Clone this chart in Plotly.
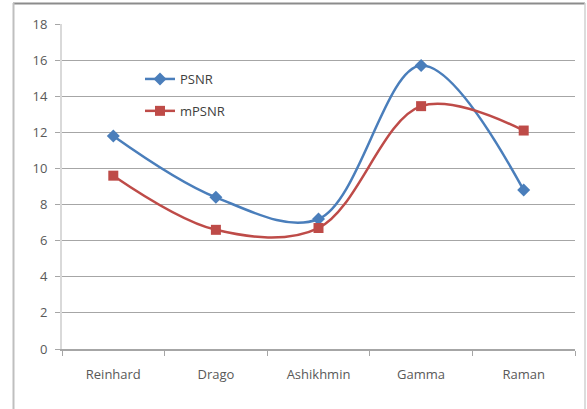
import plotly.graph_objects as go

categories = ["Reinhard", "Drago", "Ashikhmin", "Gamma", "Raman"]
psnr = [11.8, 8.4, 7.2, 15.7, 8.8]
mpsnr = [9.6, 6.6, 6.7, 13.45, 12.1]
y_ticks = [0, 2, 4, 6, 8, 10, 12, 14, 16, 18]

W, H = 587, 409
L, R, T, B = 62, 12, 24, 60

fig = go.Figure()
fig.add_trace(go.Scatter(
    x=categories, y=psnr, name="PSNR", mode="lines+markers",
    line=dict(color="#4a7ebb", width=2.5, shape="spline", smoothing=1),
    marker=dict(symbol="diamond", size=10, color="#4a7ebb"),
    legendgroup="a",
))
fig.add_trace(go.Scatter(
    x=categories, y=mpsnr, name="mPSNR", mode="lines+markers",
    line=dict(color="#be4b48", width=2.5, shape="spline", smoothing=1),
    marker=dict(symbol="square", size=10, color="#be4b48"),
    legendgroup="b",
))

pw = W - L - R
ph = H - T - B


def px(xp):
    return (xp - L) / pw


def py(yp):
    return (H - yp - B) / ph


# chart frame: top, left and right edges
fig.add_shape(type="line", xref="paper", yref="paper",
              x0=px(13), x1=px(585), y0=py(3.5), y1=py(3.5),
              line=dict(color="#8c8c8c", width=2), layer="below")
fig.add_shape(type="line", xref="paper", yref="paper",
              x0=px(13.5), x1=px(13.5), y0=py(3), y1=py(420),
              line=dict(color="#bfbfbf", width=2), layer="below")
fig.add_shape(type="line", xref="paper", yref="paper",
              x0=px(585), x1=px(585), y0=py(3), y1=py(420),
              line=dict(color="#d0d0d0", width=1.5), layer="below")

fig.update_layout(
    width=W, height=H,
    margin=dict(l=L, r=R, t=T, b=B),
    paper_bgcolor="white", plot_bgcolor="white",
    font=dict(family="Open Sans", size=13, color="#595959"),
    showlegend=True,
    legend=dict(x=px(140), y=py(64), xanchor="left", yanchor="top",
                bgcolor="rgba(0,0,0,0)", tracegroupgap=12,
                font=dict(size=13, color="#404040")),
    xaxis=dict(type="category", range=[-0.5, 4.5], tickson="boundaries",
               ticks="outside", ticklen=5, tickcolor="#a6a6a6",
               showline=True, linecolor="#a6a6a6", linewidth=1.5,
               showgrid=False, tickfont=dict(size=13, color="#595959"),
               ticklabelstandoff=13, fixedrange=True),
    yaxis=dict(range=[0, 18], tickvals=y_ticks, ticks="outside", ticklen=5,
               tickcolor="#a6a6a6", showline=True, linecolor="#d9d9d9", linewidth=2,
               showgrid=True, gridcolor="#a6a6a6", gridwidth=1, zeroline=False,
               tickfont=dict(size=13, color="#595959"), ticklabelstandoff=5,
               fixedrange=True),
)

fig.write_html("out.html",
               config={"displayModeBar": False},
               post_script="document.body.style.margin='0';document.body.style.overflow='hidden';")
